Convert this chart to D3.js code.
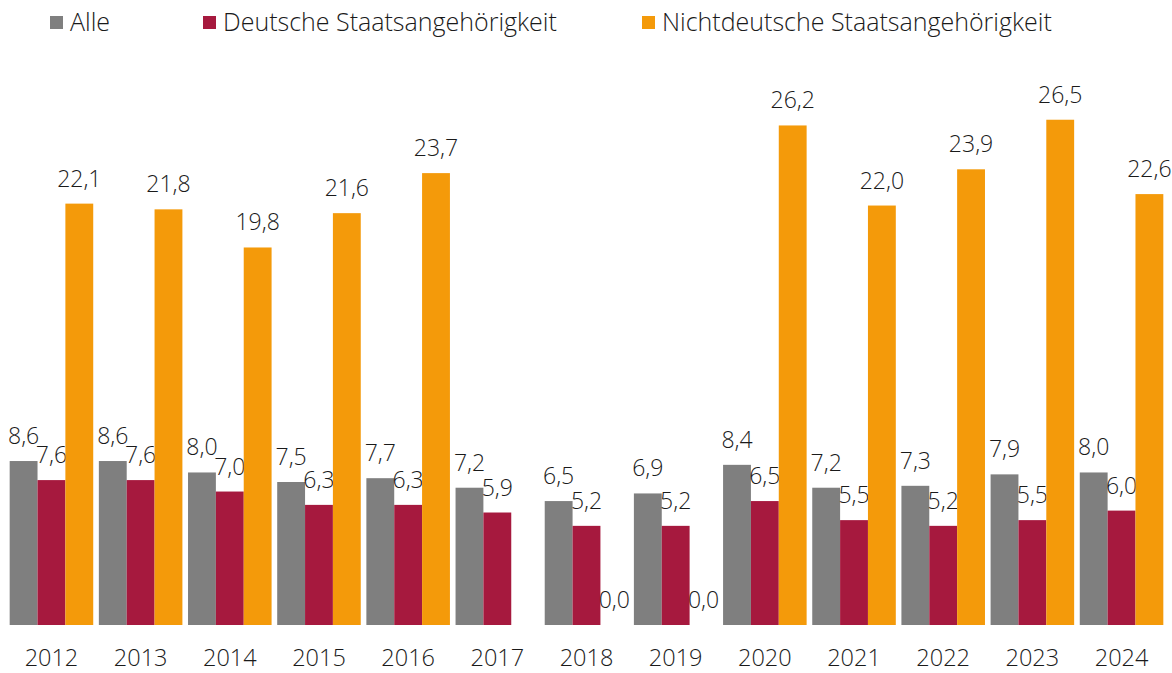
<!DOCTYPE html>
<html><head><meta charset="utf-8">
<script src="https://cdn.jsdelivr.net/npm/d3@7"></script>
<style>
html,body{margin:0;padding:0;background:#fff;}
svg{display:block;}
text{font-family:"Open Sans","Lato",sans-serif;font-weight:300;fill:#1a1a1a;}
</style></head><body>
<svg id="chart" width="1172" height="673"></svg>
<script>
const years = ["2012","2013","2014","2015","2016","2017","2018","2019","2020","2021","2022","2023","2024"];
const seriesNames = ["Alle","Deutsche Staatsangehörigkeit","Nichtdeutsche Staatsangehörigkeit"];
const alle = [8.6,8.6,8.0,7.5,7.7,7.2,6.5,6.9,8.4,7.2,7.3,7.9,8.0];
const deutsche = [7.6,7.6,7.0,6.3,6.3,5.9,5.2,5.2,6.5,5.5,5.2,5.5,6.0];
const nichtdeutsche = [22.1,21.8,19.8,21.6,23.7,null,0.0,0.0,26.2,22.0,23.9,26.5,22.6];
const colors = ["#7f7f7f","#a6193e","#f49a0a"];

const seriesValues = [alle, deutsche, nichtdeutsche];
const svg = d3.select("#chart");
const x0 = d3.scaleBand().domain(years).range([7,1166]).paddingInner(0.063).paddingOuter(0.03);
const x1 = d3.scaleBand().domain(d3.range(3)).range([0, x0.bandwidth()]);
const y = d3.scaleLinear().domain([0,30]).range([625,53]);
const fmt = v => d3.format(".1f")(v).replace(".", ",");

const groups = svg.selectAll("g.grp").data(years).join("g")
  .attr("transform", d => `translate(${x0(d)},0)`);

groups.each(function(yr, i){
  const g = d3.select(this);
  seriesValues.forEach((vals, s) => {
    const v = vals[i];
    if (v === null) return;
    if (v > 0) {
      g.append("rect")
        .attr("x", x1(s)).attr("width", x1.bandwidth())
        .attr("y", y(v)).attr("height", y(0) - y(v))
        .attr("fill", colors[s]);
    }
    g.append("text")
      .attr("x", x1(s) + x1.bandwidth()/2)
      .attr("y", y(v) - 17)
      .attr("text-anchor","middle")
      .attr("font-size", 23)
      .text(fmt(v));
  });
});

// x axis labels
const xAxis = d3.axisBottom(x0).tickSize(0).tickPadding(0);
const ax = svg.append("g").attr("transform","translate(0,649)").call(xAxis);
ax.select(".domain").remove();
ax.selectAll("text").attr("font-size",23.5).attr("dy","0.71em")
  .style("font-family",'"Open Sans","Lato",sans-serif').style("font-weight",300).attr("fill","#1a1a1a");

// legend
const legX = [50, 203, 642];
const leg = svg.append("g");
seriesNames.forEach((n, s) => {
  leg.append("rect").attr("x", legX[s]).attr("y", 16).attr("width", 13).attr("height", 13).attr("fill", colors[s]);
  leg.append("text").attr("x", legX[s] + 20).attr("y", 31).attr("font-size", 25).text(n);
});
</script>
</body></html>
